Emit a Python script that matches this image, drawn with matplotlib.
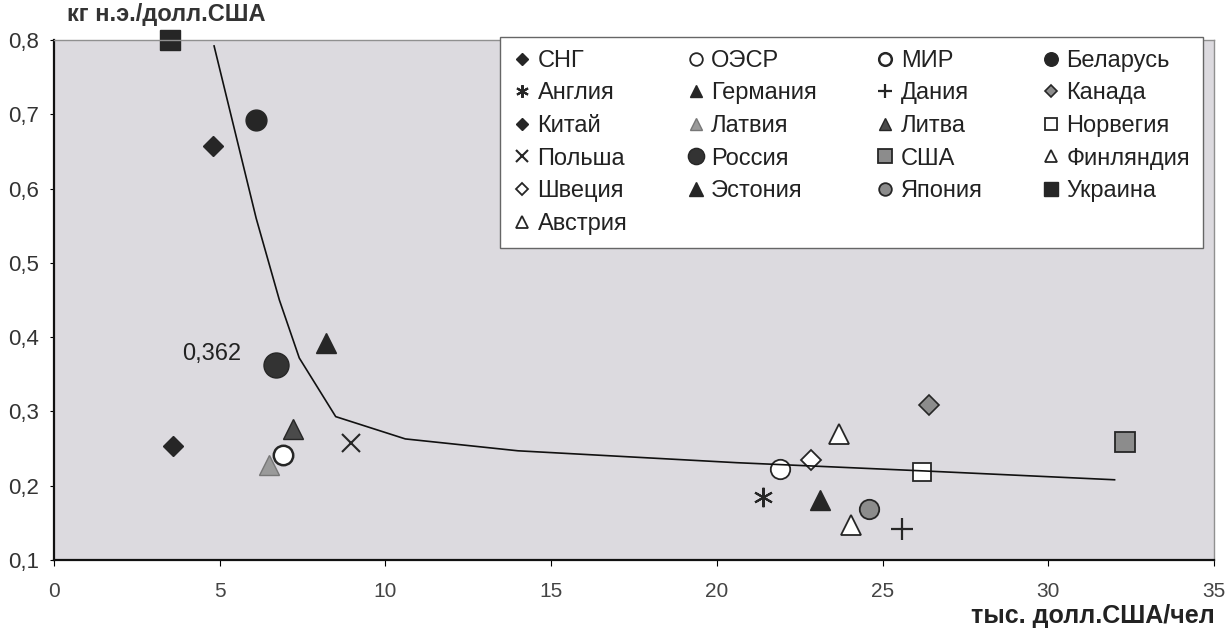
import matplotlib

matplotlib.use("Agg")
import matplotlib.pyplot as plt
from matplotlib.ticker import FuncFormatter

plt.rcParams["font.family"] = ["Liberation Sans", "DejaVu Sans"]

# legend order, read row by row
COUNTRIES = ["СНГ", "ОЭСР", "МИР", "Беларусь",
             "Англия", "Германия", "Дания", "Канада",
             "Китай", "Латвия", "Литва", "Норвегия",
             "Польша", "Россия", "США", "Финляндия",
             "Швеция", "Эстония", "Япония", "Украина",
             "Австрия"]
GDP_PC = [4.8, 21.9, 6.9, 6.1,
          21.4, 23.1, 25.6, 26.4,
          3.6, 6.5, 7.2, 26.2,
          8.95, 6.7, 32.3, 23.7,
          22.85, 8.2, 24.6, 3.5,
          24.05]
INTENSITY = [0.657, 0.222, 0.242, 0.692,
             0.185, 0.181, 0.142, 0.309,
             0.254, 0.228, 0.277, 0.219,
             0.257, 0.362, 0.259, 0.269,
             0.234, 0.392, 0.168, 0.80,
             0.147]
TREND_X = [4.83, 6.1, 6.8, 7.4, 8.5, 10.6, 14.0, 20.6, 26.2, 32.0]
TREND_Y = [0.792, 0.56, 0.45, 0.372, 0.293, 0.263, 0.247, 0.231, 0.220, 0.208]
RUSSIA_NOTE = "0,362"

DARK = "#262626"
GREY = "#8c8c8c"
STYLE = {
    "СНГ": dict(marker="D", ms=10, mfc=DARK, mec=DARK),
    "ОЭСР": dict(marker="o", ms=14, mfc="white", mec=DARK, mew=1.3),
    "МИР": dict(marker="o", ms=14, mfc="white", mec=DARK, mew=1.8),
    "Беларусь": dict(marker="o", ms=15, mfc=DARK, mec=DARK),
    "Англия": dict(marker=(6, 2, 0), ms=14, mec=DARK, mew=1.5),
    "Германия": dict(marker="^", ms=14, mfc=DARK, mec=DARK),
    "Дания": dict(marker="+", ms=16, mec=DARK, mew=1.6),
    "Канада": dict(marker="D", ms=10, mfc=GREY, mec=DARK, mew=1.2),
    "Китай": dict(marker="D", ms=10, mfc=DARK, mec=DARK),
    "Латвия": dict(marker="^", ms=14, mfc="#9a9a9a", mec="#777777"),
    "Литва": dict(marker="^", ms=14, mfc="#4a4a4a", mec=DARK),
    "Норвегия": dict(marker="s", ms=13, mfc="white", mec=DARK, mew=1.3),
    "Польша": dict(marker="x", ms=13, mec=DARK, mew=1.5),
    "Россия": dict(marker="o", ms=18, mfc="#333333", mec=DARK),
    "США": dict(marker="s", ms=15, mfc=GREY, mec=DARK, mew=1.3),
    "Финляндия": dict(marker="^", ms=14, mfc="white", mec=DARK, mew=1.3),
    "Швеция": dict(marker="D", ms=10, mfc="white", mec=DARK, mew=1.3),
    "Эстония": dict(marker="^", ms=15, mfc=DARK, mec=DARK),
    "Япония": dict(marker="o", ms=14, mfc=GREY, mec=DARK, mew=1.3),
    "Украина": dict(marker="s", ms=15, mfc=DARK, mec=DARK),
    "Австрия": dict(marker="^", ms=14, mfc="white", mec=DARK, mew=1.3),
}

fig = plt.figure(figsize=(12.26, 6.31), dpi=100)
ax = fig.add_axes([54 / 1226, 1 - 560 / 631, 1160 / 1226, 520 / 631])
ax.set_facecolor("#dcdadf")

handles = {}
for name, x, y in zip(COUNTRIES, GDP_PC, INTENSITY):
    (h,) = ax.plot([x], [y], linestyle="none", label=name, zorder=2,
                   clip_on=False, **STYLE[name])
    handles[name] = h

ax.plot(TREND_X, TREND_Y, color="#111111", lw=1.2, zorder=3)
ax.annotate(RUSSIA_NOTE, (GDP_PC[COUNTRIES.index("Россия")], 0.362),
            xytext=(-46, 8), textcoords="offset points", fontsize=17,
            color="#222222", va="center", ha="center")

ax.set_xlim(0, 35)
ax.set_ylim(0.1, 0.8)
ax.set_xticks(range(0, 36, 5))
ax.set_yticks([0.1, 0.2, 0.3, 0.4, 0.5, 0.6, 0.7, 0.8])
ax.yaxis.set_major_formatter(FuncFormatter(lambda v, _: f"{v:.1f}".replace(".", ",")))
ax.tick_params(axis="x", direction="out", length=4, pad=12, labelsize=15,
               labelcolor="#444444")
ax.tick_params(axis="y", direction="out", length=3, pad=8, labelsize=16,
               labelcolor="#333333")
for side in ("left", "bottom"):
    ax.spines[side].set_linewidth(1.6)
    ax.spines[side].set_color("#111111")
for side in ("top", "right"):
    ax.spines[side].set_linewidth(1.0)
    ax.spines[side].set_color("#909090")

fig.text(67 / 1226, 1 - 15 / 631, "кг н.э./долл.США", fontsize=17,
         fontweight="bold", color="#333333", va="center", ha="left")
fig.text(1215 / 1226, 1 - 616 / 631, "тыс. долл.США/чел", fontsize=18,
         fontweight="bold", color="#222222", va="center", ha="right")

# matplotlib fills legend columns first: reorder so rows read like the original
ncol = 4
order = [i for c in range(ncol) for i in range(c, len(COUNTRIES), ncol)]
leg = ax.legend([handles[COUNTRIES[i]] for i in order],
                [COUNTRIES[i] for i in order],
                ncol=ncol, loc="upper right", bbox_to_anchor=(0.9905, 1.006),
                borderaxespad=0, fontsize=17, markerscale=0.65,
                handlelength=0.8, handletextpad=0.25, columnspacing=2.5,
                labelspacing=0.45, borderpad=0.55, frameon=True,
                fancybox=False, framealpha=1)
leg.get_frame().set_edgecolor("#666666")
leg.get_frame().set_linewidth(1.0)
for t in leg.get_texts():
    t.set_color("#222222")

fig.savefig("out.png", dpi=100)
